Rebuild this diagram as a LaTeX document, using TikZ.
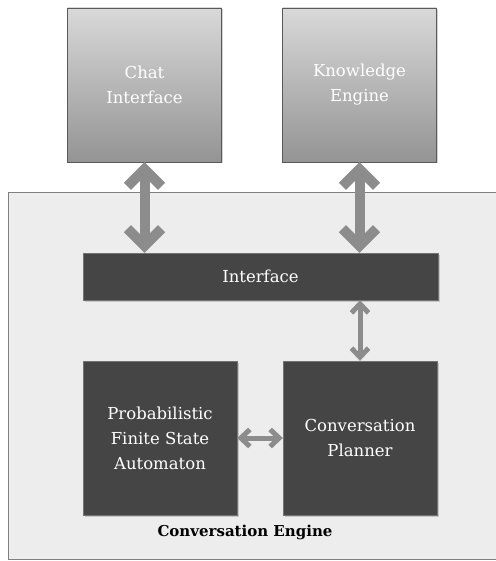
\documentclass[tikz,border=0pt]{standalone}
\usepackage{fontspec}
\setmainfont{DejaVu Serif}
\usetikzlibrary{positioning,arrows.meta,shadows}

\tikzset{
  topbox/.style={draw=black!65, top color=black!15, bottom color=black!42, text=white, align=center,
    minimum width=154pt, minimum height=154pt, drop shadow={shadow xshift=1.5pt, shadow yshift=-1.5pt, opacity=0.35},
    font=\fontsize{16.5}{25}\selectfont},
  darkbox/.style={draw=black!55, fill=black!73, text=white, align=center,
    drop shadow={shadow xshift=1.5pt, shadow yshift=-1.5pt, opacity=0.35},
    font=\fontsize{16.5}{25}\selectfont},
  bigarrow/.style={draw=black!45, line width=10pt,
    {Straight Barb[length=17pt,width=34pt]}-{Straight Barb[length=17pt,width=34pt]}},
  smallarrow/.style={draw=black!45, line width=5pt,
    {Straight Barb[length=9pt,width=17pt]}-{Straight Barb[length=9pt,width=17pt]}},
}

\begin{document}
\begin{tikzpicture}[x=1pt,y=-1pt]
\useasboundingbox (0,0) rectangle (495,561);
\draw[black!50, fill=black!7] (8,192) rectangle (496,559);

\node[topbox] (chat) at (144.5,85) {Chat\\Interface};
\node[topbox] (know) at (359.5,85) {Knowledge\\Engine};
\node[darkbox, minimum width=355pt, minimum height=47pt] (iface) at (260.5,276.5) {Interface};
\node[darkbox, minimum width=154pt, minimum height=154pt] (pfsa) at (160,438) {Probabilistic\\Finite State\\Automaton};
\node[darkbox, minimum width=154pt, minimum height=154pt] (plan) at (360,438) {Conversation\\Planner};
\node[font=\fontsize{15}{18}\selectfont\bfseries] (ename) at (245,532) {Conversation Engine};

\draw[bigarrow] (chat.south) -- (chat.south |- iface.north);
\draw[bigarrow] (know.south) -- (know.south |- iface.north);
\draw[smallarrow] (plan.north |- iface.south) -- (plan.north);
\draw[smallarrow] (pfsa.east) -- (plan.west);
\end{tikzpicture}
\end{document}
